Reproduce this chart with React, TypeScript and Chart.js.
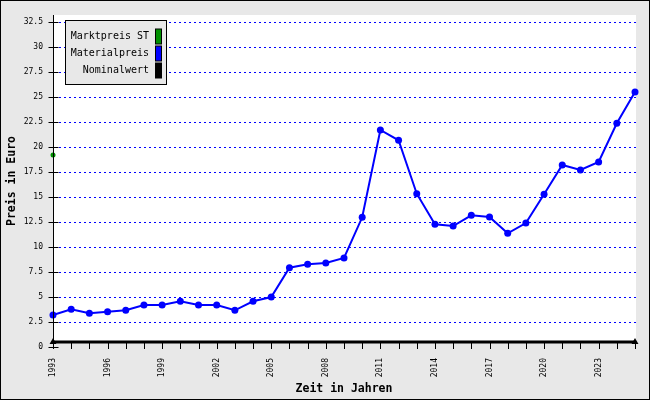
import React, { useEffect, useRef } from 'react';
import { Chart, registerables } from 'chart.js';

Chart.register(...registerables);

const years = [
  '1993', '1994', '1995', '1996', '1997', '1998', '1999', '2000', '2001', '2002', '2003',
  '2004', '2005', '2006', '2007', '2008', '2009', '2010', '2011', '2012', '2013', '2014',
  '2015', '2016', '2017', '2018', '2019', '2020', '2021', '2022', '2023', '2024', '2025',
];

const materialpreis = [
  3.2, 3.77, 3.37, 3.53, 3.67, 4.2, 4.2, 4.57, 4.2, 4.2, 3.67,
  4.57, 5.0, 7.93, 8.27, 8.4, 8.9, 12.97, 21.7, 20.67, 15.33, 12.27,
  12.1, 13.17, 13.0, 11.37, 12.4, 15.27, 18.2, 17.7, 18.5, 22.37, 25.5,
];

const marktpreisST = [
  19.2, null, null, null, null, null, null, null, null, null, null,
  null, null, null, null, null, null, null, null, null, null, null,
  null, null, null, null, null, null, null, null, null, null, null,
];

const nominalwert = [
  0.5, 0.5, 0.5, 0.5, 0.5, 0.5, 0.5, 0.5, 0.5, 0.5, 0.5,
  0.5, 0.5, 0.5, 0.5, 0.5, 0.5, 0.5, 0.5, 0.5, 0.5, 0.5,
  0.5, 0.5, 0.5, 0.5, 0.5, 0.5, 0.5, 0.5, 0.5, 0.5, 0.5,
];

const yTickValues = [0, 2.5, 5, 7.5, 10, 12.5, 15, 17.5, 20, 22.5, 25, 27.5, 30, 32.5];

const seriesLabels = ['Marktpreis ST', 'Materialpreis', 'Nominalwert'];
const seriesColors = ['#009000', '#0000ff', '#000000'];

const MONO = '"DejaVu Sans Mono", monospace';

const decorPlugin = {
  id: 'decor',
  beforeDraw(chart: any) {
    const ctx = chart.ctx;
    const { left, right, top } = chart.chartArea;
    const y = chart.scales.y;
    ctx.save();
    ctx.fillStyle = '#e8e8e8';
    ctx.fillRect(0, 0, chart.width, chart.height);
    ctx.fillStyle = '#ffffff';
    const yb = Math.round(y.getPixelForValue(0.5));
    ctx.fillRect(left, top, right + 1 - left, yb - top);
    ctx.strokeStyle = '#000';
    ctx.lineWidth = 1;
    ctx.strokeRect(0.5, 0.5, chart.width - 1, chart.height - 1);
    // grid lines
    ctx.strokeStyle = '#0000ff';
    ctx.setLineDash([2, 3]);
    for (const v of yTickValues) {
      if (v === 0) continue;
      const py = Math.round(y.getPixelForValue(v)) + 0.5;
      ctx.beginPath();
      ctx.moveTo(left + 1, py);
      ctx.lineTo(right + 1, py);
      ctx.stroke();
    }
    ctx.restore();
  },
  afterDraw(chart: any) {
    const ctx = chart.ctx;
    const { left, top, bottom } = chart.chartArea;
    const x = chart.scales.x;
    const y = chart.scales.y;
    ctx.save();
    ctx.strokeStyle = '#000';
    ctx.lineWidth = 1;
    // y axis line
    const ax = Math.round(left) + 0.5;
    ctx.beginPath();
    ctx.moveTo(ax, top);
    ctx.lineTo(ax, bottom + 1);
    ctx.stroke();
    // y ticks
    for (const v of yTickValues) {
      const py = Math.round(y.getPixelForValue(v)) + 0.5;
      ctx.beginPath();
      ctx.moveTo(ax - 5, py);
      ctx.lineTo(ax + 5, py);
      ctx.stroke();
    }
    // x ticks
    const yb = Math.round(y.getPixelForValue(0.5));
    for (let i = 0; i < years.length; i++) {
      const px = Math.round(x.getPixelForValue(i)) + 0.5;
      ctx.beginPath();
      ctx.moveTo(px, yb);
      ctx.lineTo(px, yb + 7);
      ctx.stroke();
    }
    // legend
    const lx = 65.5, ly = 20.5, lw = 101, lh = 64;
    ctx.fillStyle = '#e8e8e8';
    ctx.fillRect(lx, ly, lw, lh);
    ctx.strokeRect(lx, ly, lw, lh);
    ctx.font = '10px ' + MONO;
    ctx.textAlign = 'right';
    ctx.textBaseline = 'middle';
    const datasets = chart.data.datasets;
    for (let i = 0; i < datasets.length; i++) {
      const cy = 36.5 + i * 17;
      ctx.fillStyle = '#000';
      ctx.fillText(datasets[i].label, 149, cy);
      ctx.fillStyle = datasets[i].legendColor;
      ctx.fillRect(155.5, cy - 7.5, 6, 15);
      ctx.strokeRect(155.5, cy - 7.5, 6, 15);
    }
    ctx.restore();
  },
};

export default function App() {
  const canvasRef = useRef<HTMLCanvasElement | null>(null);

  useEffect(() => {
    if (!canvasRef.current) return;
    const chart = new Chart(canvasRef.current, {
      type: 'line',
      data: {
        labels: years,
        datasets: [
          {
            label: seriesLabels[0],
            legendColor: seriesColors[0],
            data: marktpreisST,
            borderColor: seriesColors[0],
            backgroundColor: seriesColors[0],
            pointBackgroundColor: seriesColors[0],
            pointBorderColor: seriesColors[0],
            pointRadius: 2.5,
            pointBorderWidth: 0,
            borderWidth: 1,
            showLine: false,
            clip: false,
          } as any,
          {
            label: seriesLabels[1],
            legendColor: seriesColors[1],
            data: materialpreis,
            borderColor: seriesColors[1],
            backgroundColor: seriesColors[1],
            pointBackgroundColor: seriesColors[1],
            pointBorderColor: seriesColors[1],
            pointRadius: 3.5,
            pointBorderWidth: 0,
            borderWidth: 2,
            tension: 0,
            clip: false,
          } as any,
          {
            label: seriesLabels[2],
            legendColor: seriesColors[2],
            data: nominalwert,
            borderColor: seriesColors[2],
            backgroundColor: seriesColors[2],
            pointBackgroundColor: seriesColors[2],
            pointBorderColor: seriesColors[2],
            pointStyle: 'triangle',
            pointRadius: (c: any) => (c.dataIndex === 0 || c.dataIndex === years.length - 1 ? 4 : 0),
            pointBorderWidth: 0,
            borderWidth: 3,
            clip: false,
          } as any,
        ],
      },
      options: {
        animation: false,
        responsive: false,
        devicePixelRatio: 1,
        layout: { padding: { top: 15, right: 15, bottom: 0, left: 0 } },
        plugins: {
          legend: { display: false },
          tooltip: { enabled: false },
        },
        scales: {
          x: {
            type: 'category',
            offset: false,
            grid: { display: false, drawTicks: false },
            border: { display: false },
            ticks: {
              autoSkip: false,
              maxRotation: 90,
              minRotation: 90,
              padding: 11,
              color: '#000',
              font: { family: MONO, size: 8 },
              callback: (_v: any, i: number) => (i % 3 === 0 ? years[i] : ''),
            },
            title: {
              display: true,
              text: 'Zeit in Jahren',
              color: '#000',
              font: { family: MONO, size: 11.5, weight: 'bold' },
              padding: { top: 4, bottom: 4 },
            },
            afterFit: (s: any) => {
              s.height = 53;
              s.paddingLeft = 0;
              s.paddingRight = 0;
            },
          },
          y: {
            type: 'linear',
            min: 0,
            max: 33.2,
            grid: { display: false, drawTicks: false },
            border: { display: false },
            afterBuildTicks: (s: any) => {
              s.ticks = yTickValues.map((v) => ({ value: v }));
            },
            ticks: {
              padding: 10,
              color: '#000',
              font: { family: MONO, size: 8 },
              callback: (v: any) => String(v),
            },
            title: {
              display: true,
              text: 'Preis in Euro',
              color: '#000',
              font: { family: MONO, size: 11.5, weight: 'bold' },
              padding: { top: 5, bottom: 4 },
            },
            afterFit: (s: any) => {
              s.width = 53;
              s.paddingTop = 0;
              s.paddingBottom = 0;
            },
          },
        },
      } as any,
      plugins: [decorPlugin],
    });
    return () => chart.destroy();
  }, []);

  return (
    <div style={{ position: 'absolute', left: 0, top: 0, width: 650, height: 400 }}>
      <canvas ref={canvasRef} width={650} height={400} />
    </div>
  );
}
